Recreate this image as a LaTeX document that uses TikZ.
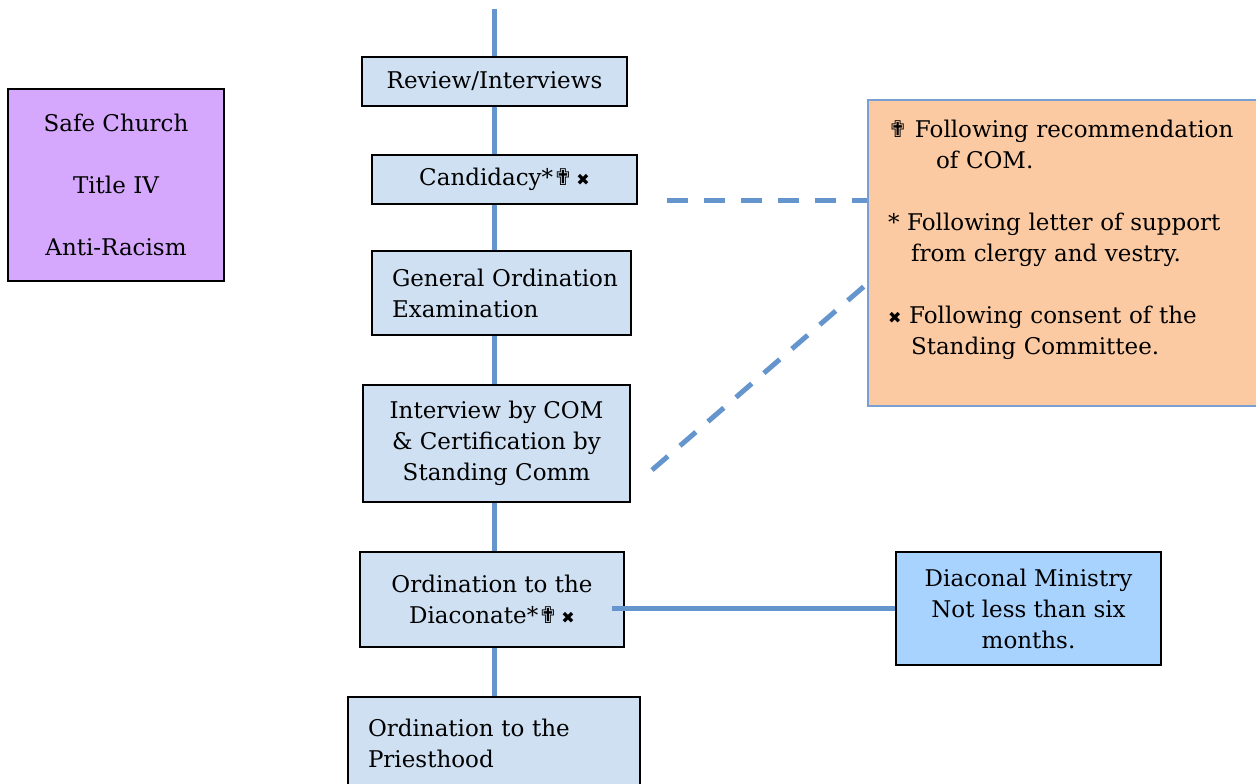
\documentclass[tikz,border=0pt]{standalone}
\usepackage{fontspec}
\setmainfont{DejaVu Serif}
\newfontfamily\symfont{DejaVu Sans}
\usetikzlibrary{positioning,calc}

\definecolor{stagefill}{HTML}{CFE0F2}
\definecolor{trainfill}{HTML}{D5A8FE}
\definecolor{notefill}{HTML}{FBCAA2}
\definecolor{notedraw}{HTML}{7A9FD3}
\definecolor{ministryfill}{HTML}{A9D3FF}
\definecolor{linkblue}{HTML}{6495CD}

\newcommand{\latincross}{{\symfont ✟}}
\newcommand{\consentx}{{\symfont\footnotesize ✖}}

\begin{document}
\begin{tikzpicture}[x=0.5pt,y=-0.5pt,
		stage node/.style={rectangle,draw=black,line width=1pt,fill=stagefill,
			font=\fontsize{11.5}{15.5}\selectfont,align=center,inner sep=0pt},
		left node/.style={stage node,align=left,inner xsep=10pt},
		train node/.style={stage node,fill=trainfill,minimum width=108pt,minimum height=96pt},
		ministry node/.style={stage node,fill=ministryfill,minimum width=132.5pt,minimum height=56.5pt},
		note node/.style={rectangle,draw=notedraw,line width=1pt,fill=notefill,
			font=\fontsize{11.5}{15.5}\selectfont,align=left,inner xsep=10pt,
			text width=180pt,minimum height=153pt},
		link line/.style={draw=linkblue,line width=2.5pt},
		dash line/.style={link line,dash pattern=on 10.5pt off 8pt}]
	\useasboundingbox (0,0) rectangle (1256,783);
	%
	% The steps, top to bottom.
	\node[stage node,minimum width=132.5pt,minimum height=24.5pt] (rev) at (494.5,81.5) {Review/Interviews};
	\node[stage node,minimum width=132.5pt,minimum height=24.5pt] (cand) [below=23.5pt of rev,xshift=5pt] {Candidacy*\latincross\,\consentx};
	\node[left node,text width=109.5pt,minimum height=42pt] (goe) [below=22.5pt of cand,xshift=-1.5pt] {\mbox{General Ordination}\\Examination};
	\node[stage node,minimum width=133.5pt,minimum height=58.5pt] (intv) [below=24pt of goe,xshift=-2.5pt] {Interview by COM\\\& Certification by\\Standing Comm};
	\node[stage node,minimum width=132pt,minimum height=47.5pt] (diac) [below=24pt of intv,xshift=-2.25pt] {Ordination to the\\Diaconate*\latincross\,\consentx};
	\node[left node,text width=126pt,minimum height=46pt] (priest) [below=24pt of diac,xshift=1pt] {Ordination to the\\Priesthood};
	%
	% Side boxes.
	\node[train node] (safe) at (116,185) {Safe Church\\[15.5pt]Title IV\\[15.5pt]Anti-Racism};
	\node[note node,anchor=north west] (notes) at (867,99) {\latincross{} Following recommendation\\
		\hspace*{24pt}of COM.\\[15.5pt]
		* Following letter of support\\
		\hspace*{11.5pt}from clergy and vestry.\\[15.5pt]
		\consentx{} Following consent of the\\
		\hspace*{11.5pt}Standing Committee.\\\mbox{}};
	\node[ministry node] (dia) [right=135pt of diac,yshift=-4.5pt] {Diaconal Ministry\\Not less than six\\months.};
	%
	% Solid lines down the column.
	\coordinate (top) at (494.5,9);
	\path[link line]
		(top) -- (rev.north)
		(rev.south) -- (rev.south |- cand.north)
		(cand.south -| rev) -- (goe.north -| rev)
		(goe.south -| rev) -- (intv.north -| rev)
		(intv.south -| rev) -- (diac.north -| rev)
		(diac.south -| rev) -- (priest.north -| rev);
	\path[link line,shorten <=-6.5pt] (diac.east |- dia.west) -- (dia.west);
	%
	% Dashed lines to the notes.
	\coordinate (candnote) at (667,200);
	\coordinate (intvnote) at (652,470);
	\path[dash line] (candnote) -- (candnote -| notes.west);
	\path[dash line] (intvnote) -- ($(notes.north west)!0.6!(notes.south west)$);
\end{tikzpicture}
\end{document}
